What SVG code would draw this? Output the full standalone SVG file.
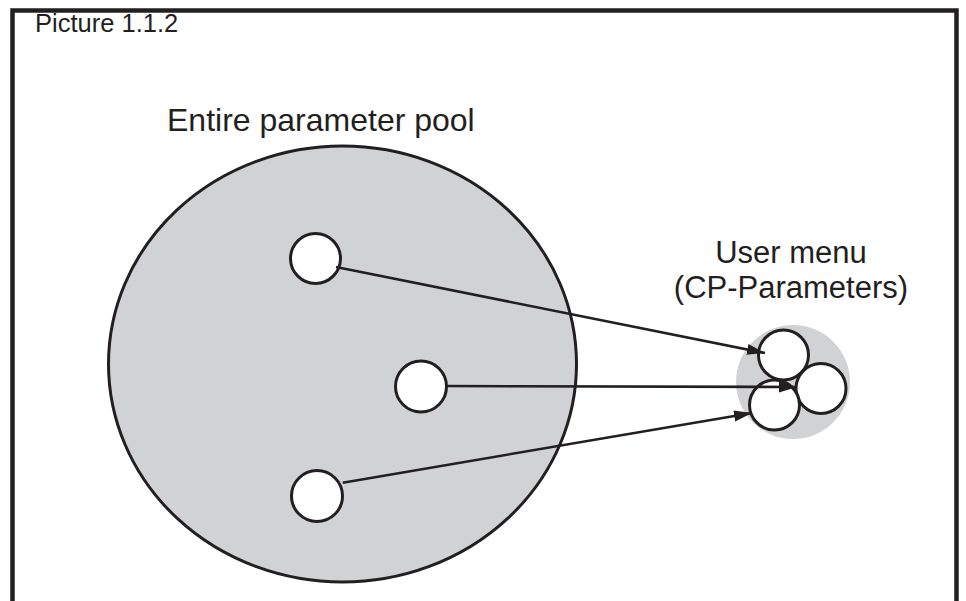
<svg xmlns="http://www.w3.org/2000/svg" width="966" height="601" viewBox="0 0 966 601">
<defs>
<style>
.t{font-family:"Liberation Sans",Arial,sans-serif;fill:#231f20}
.n{fill:#fff;stroke:#231f20;stroke-width:3}
.c{stroke:#231f20;stroke-width:2.6;fill:none}
</style>
<marker id="ah" markerUnits="userSpaceOnUse" markerWidth="20" markerHeight="12" refX="18" refY="5.5" orient="auto">
<path d="M0,0 L18,5.5 L0,11 z" fill="#231f20"/>
</marker>
</defs>
<rect width="966" height="601" fill="#fff"/>
<g id="frame">
<path d="M12.5,601 V10.5 H956.5 V601" fill="none" stroke="#231f20" stroke-width="4.5"/>
</g>
<text class="t" x="35" y="32" font-size="25.5">Picture 1.1.2</text>
<g id="pool">
<ellipse cx="342.5" cy="364" rx="234" ry="218" fill="#d1d2d4" stroke="#231f20" stroke-width="3"/>
<text class="t" x="167" y="131" font-size="32">Entire parameter pool</text>
</g>
<g id="usermenu">
<circle cx="793" cy="382" r="57" fill="#d1d2d4"/>
<text class="t" x="791" y="263" font-size="31" text-anchor="middle">User menu</text>
<text class="t" x="791" y="298" font-size="31" text-anchor="middle">(CP-Parameters)</text>
</g>
<g id="p1"><circle class="n" cx="315.5" cy="258.5" r="25"/></g>
<g id="p2"><circle class="n" cx="421" cy="386.5" r="25.5"/></g>
<g id="p3"><circle class="n" cx="317" cy="496" r="25.5"/></g>
<g id="u1"><circle class="n" cx="783.5" cy="355" r="25"/></g>
<g id="u2"><circle class="n" cx="821" cy="388.5" r="25"/></g>
<g id="u3"><circle class="n" cx="774.5" cy="405" r="25"/></g>
<g id="connectors">
<line class="c" x1="336" y1="267" x2="765" y2="353" marker-end="url(#ah)"/>
<line class="c" x1="446.5" y1="386" x2="797" y2="387" marker-end="url(#ah)"/>
<line class="c" x1="342.7" y1="482.7" x2="752" y2="413" marker-end="url(#ah)"/>
</g>
</svg>
